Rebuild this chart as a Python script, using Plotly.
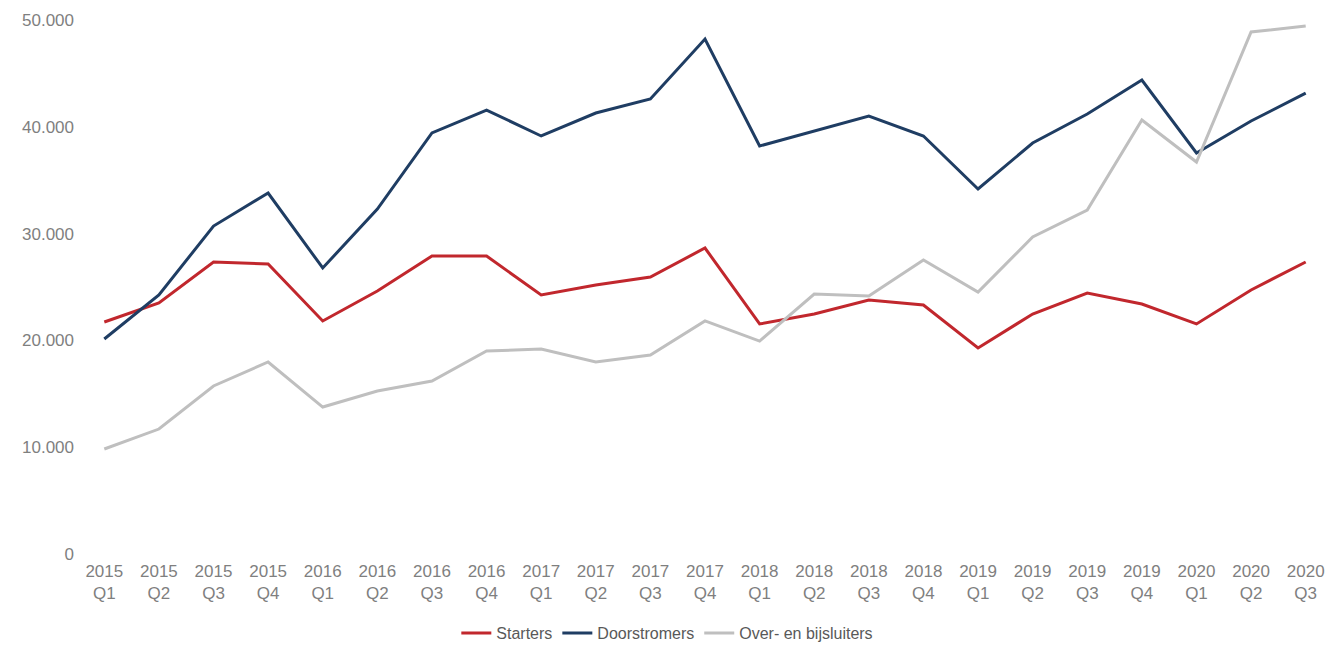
import plotly.graph_objects as go

quarters = ["2015<br>Q1", "2015<br>Q2", "2015<br>Q3", "2015<br>Q4",
            "2016<br>Q1", "2016<br>Q2", "2016<br>Q3", "2016<br>Q4",
            "2017<br>Q1", "2017<br>Q2", "2017<br>Q3", "2017<br>Q4",
            "2018<br>Q1", "2018<br>Q2", "2018<br>Q3", "2018<br>Q4",
            "2019<br>Q1", "2019<br>Q2", "2019<br>Q3", "2019<br>Q4",
            "2020<br>Q1", "2020<br>Q2", "2020<br>Q3"]

starters = [21720, 23500, 27340, 27150, 21820, 24630, 27900, 27900,
            24250, 25190, 25940, 28650, 21540, 22470, 23780, 23310,
            19290, 22470, 24440, 23410, 21540, 24720, 27340]

doorstromers = [20130, 24250, 30710, 33800, 26780, 32300, 39420, 41570,
                39140, 41290, 42600, 48220, 38200, 39610, 41010, 39140,
                34180, 38480, 41200, 44380, 37550, 40540, 43160]

over_bijsluiters = [9830, 11700, 15730, 17980, 13760, 15260, 16200, 19010,
                    19190, 17980, 18630, 21820, 19940, 24340, 24160, 27530,
                    24530, 29680, 32210, 40640, 36700, 48880, 49440]

y_ticks = [0, 10000, 20000, 30000, 40000, 50000]

fig = go.Figure()
for name, vals, color in [("Starters", starters, "#C1272D"),
                          ("Doorstromers", doorstromers, "#1F3D63"),
                          ("Over- en bijsluiters", over_bijsluiters, "#BFBFBF")]:
    fig.add_trace(go.Scatter(x=quarters, y=vals, mode="lines", name=name,
                             line=dict(color=color, width=3)))

fig.update_layout(
    width=1344, height=646,
    margin=dict(l=77, r=11, t=20, b=92, autoexpand=False),
    paper_bgcolor="white", plot_bgcolor="white",
    separators=",.",
    font=dict(family="Liberation Sans, Arial, sans-serif", size=17, color="#7F7F7F"),
    showlegend=True,
    legend=dict(orientation="h", x=0.47, xanchor="center",
                yref="container", y=0.02, yanchor="middle",
                font=dict(size=16, color="#595959"), itemwidth=30),
    xaxis=dict(type="category", range=[-0.5, 22.5], showgrid=False, showline=False,
               zeroline=False, ticks="", automargin=False, ticklabelstandoff=5,
               tickfont=dict(size=17, color="#7F7F7F")),
    yaxis=dict(range=[0, 50000], tickvals=y_ticks, tickformat=",d", showgrid=False,
               zeroline=False, showline=False, ticks="", automargin=False,
               ticklabelstandoff=2,
               tickfont=dict(size=17, color="#7F7F7F")),
)

fig.write_html("out.html")
